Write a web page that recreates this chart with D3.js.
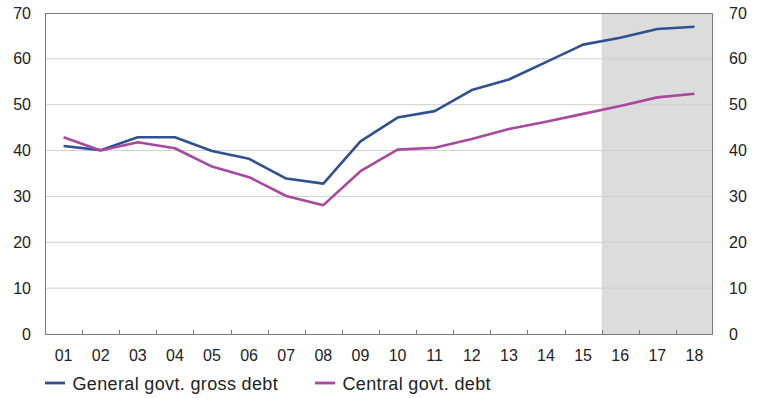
<!DOCTYPE html>
<html>
<head>
<meta charset="utf-8">
<script src="https://cdn.jsdelivr.net/npm/d3@7"></script>
<style>
  html, body { margin: 0; padding: 0; background: #fff; }
  svg { display: block; font-family: "Liberation Sans", Arial, sans-serif; }
</style>
</head>
<body>
<svg id="chart" width="763" height="398"></svg>
<script>
// Years (two-digit labels), 2001–2018; 2016 onward are projections
const years = ["01","02","03","04","05","06","07","08","09","10","11","12","13","14","15","16","17","18"];
const generalGovtDebt = [41.0, 40.1, 42.9, 42.9, 39.9, 38.2, 33.9, 32.8, 42.0, 47.2, 48.6, 53.2, 55.5, 59.3, 63.1, 64.6, 66.5, 67.0];
const centralGovtDebt = [42.9, 40.0, 41.8, 40.5, 36.5, 34.2, 30.1, 28.1, 35.5, 40.2, 40.6, 42.5, 44.7, 46.3, 48.0, 49.7, 51.6, 52.4];
const yTicks = [0, 10, 20, 30, 40, 50, 60, 70];
const projectionStart = "16";

const seriesNames = ["General govt. gross debt", "Central govt. debt"];
const seriesColors = ["#2f5091", "#a8489e"];

const margin = { top: 13, right: 50, bottom: 64, left: 45 };
const W = 763, H = 398;
const iw = W - margin.left - margin.right;
const ih = H - margin.top - margin.bottom;

const svg = d3.select("#chart");
const g = svg.append("g").attr("transform", `translate(${margin.left},${margin.top})`);

const x = d3.scaleBand().domain(years).range([0, iw]).padding(0);
const y = d3.scaleLinear().domain([0, 70]).range([ih, 0]);

// Projection shading
g.append("rect")
  .attr("x", x(projectionStart))
  .attr("y", 0)
  .attr("width", iw - x(projectionStart))
  .attr("height", ih)
  .attr("fill", "#dcdcdc");

// Horizontal grid lines
g.append("g").selectAll("line")
  .data(yTicks.filter(d => d > 0 && d < 70))
  .join("line")
  .attr("x1", 0).attr("x2", iw)
  .attr("y1", d => y(d)).attr("y2", d => y(d))
  .attr("stroke", "#cfcfcf").attr("stroke-width", 1);

// Frame: top, left, right
g.append("path")
  .attr("d", `M0.5,${ih} V0.5 H${iw - 0.5} V${ih}`)
  .attr("fill", "none").attr("stroke", "#7a7a7a").attr("stroke-width", 1);

// Left axis
const leftAxis = g.append("g")
  .call(d3.axisLeft(y).tickValues(yTicks).tickSize(0).tickPadding(14));
leftAxis.select(".domain").remove();

// Right axis
const rightAxis = g.append("g")
  .attr("transform", `translate(${iw},0)`)
  .call(d3.axisRight(y).tickValues(yTicks).tickSize(0).tickPadding(16));
rightAxis.select(".domain").remove();

[leftAxis, rightAxis].forEach(a => a.selectAll("text")
  .attr("font-size", 16).attr("fill", "#222")
  .attr("font-family", "Liberation Sans, Arial, sans-serif"));

// Bottom axis with inward tick marks at category boundaries
const bottom = g.append("g").attr("transform", `translate(0,${ih})`);
bottom.append("line")
  .attr("x1", 0).attr("x2", iw).attr("y1", 0.5).attr("y2", 0.5)
  .attr("stroke", "#7a7a7a");
bottom.selectAll("line.tick")
  .data(years.slice(1))
  .join("line")
  .attr("class", "tick")
  .attr("x1", d => Math.round(x(d)) + 0.5).attr("x2", d => Math.round(x(d)) + 0.5)
  .attr("y1", 0).attr("y2", -4)
  .attr("stroke", "#7a7a7a");
bottom.selectAll("text")
  .data(years)
  .join("text")
  .attr("x", d => x(d) + x.bandwidth() / 2)
  .attr("y", 27)
  .attr("text-anchor", "middle")
  .attr("font-size", 16).attr("fill", "#222")
  .text(d => d);

// Series lines
const line = d3.line()
  .x((d, i) => x(years[i]) + x.bandwidth() / 2)
  .y(d => y(d));

[generalGovtDebt, centralGovtDebt].forEach((vals, k) => {
  g.append("path")
    .datum(vals)
    .attr("d", line)
    .attr("fill", "none")
    .attr("stroke", seriesColors[k])
    .attr("stroke-width", 2.6)
    .attr("stroke-linejoin", "round");
});

// Legend
const legend = svg.append("g").attr("transform", "translate(45,383)");
const legendX = [0, 270];
seriesNames.forEach((name, k) => {
  const lg = legend.append("g").attr("transform", `translate(${legendX[k]},0)`);
  lg.append("line").attr("x1", 0).attr("x2", 20).attr("y1", 0).attr("y2", 0)
    .attr("stroke", seriesColors[k]).attr("stroke-width", 2.8);
  lg.append("text").attr("x", 27.5).attr("y", 6.5)
    .attr("font-size", 18).attr("letter-spacing", 0.35)
    .attr("fill", "#222").text(name);
});
</script>
</body>
</html>
